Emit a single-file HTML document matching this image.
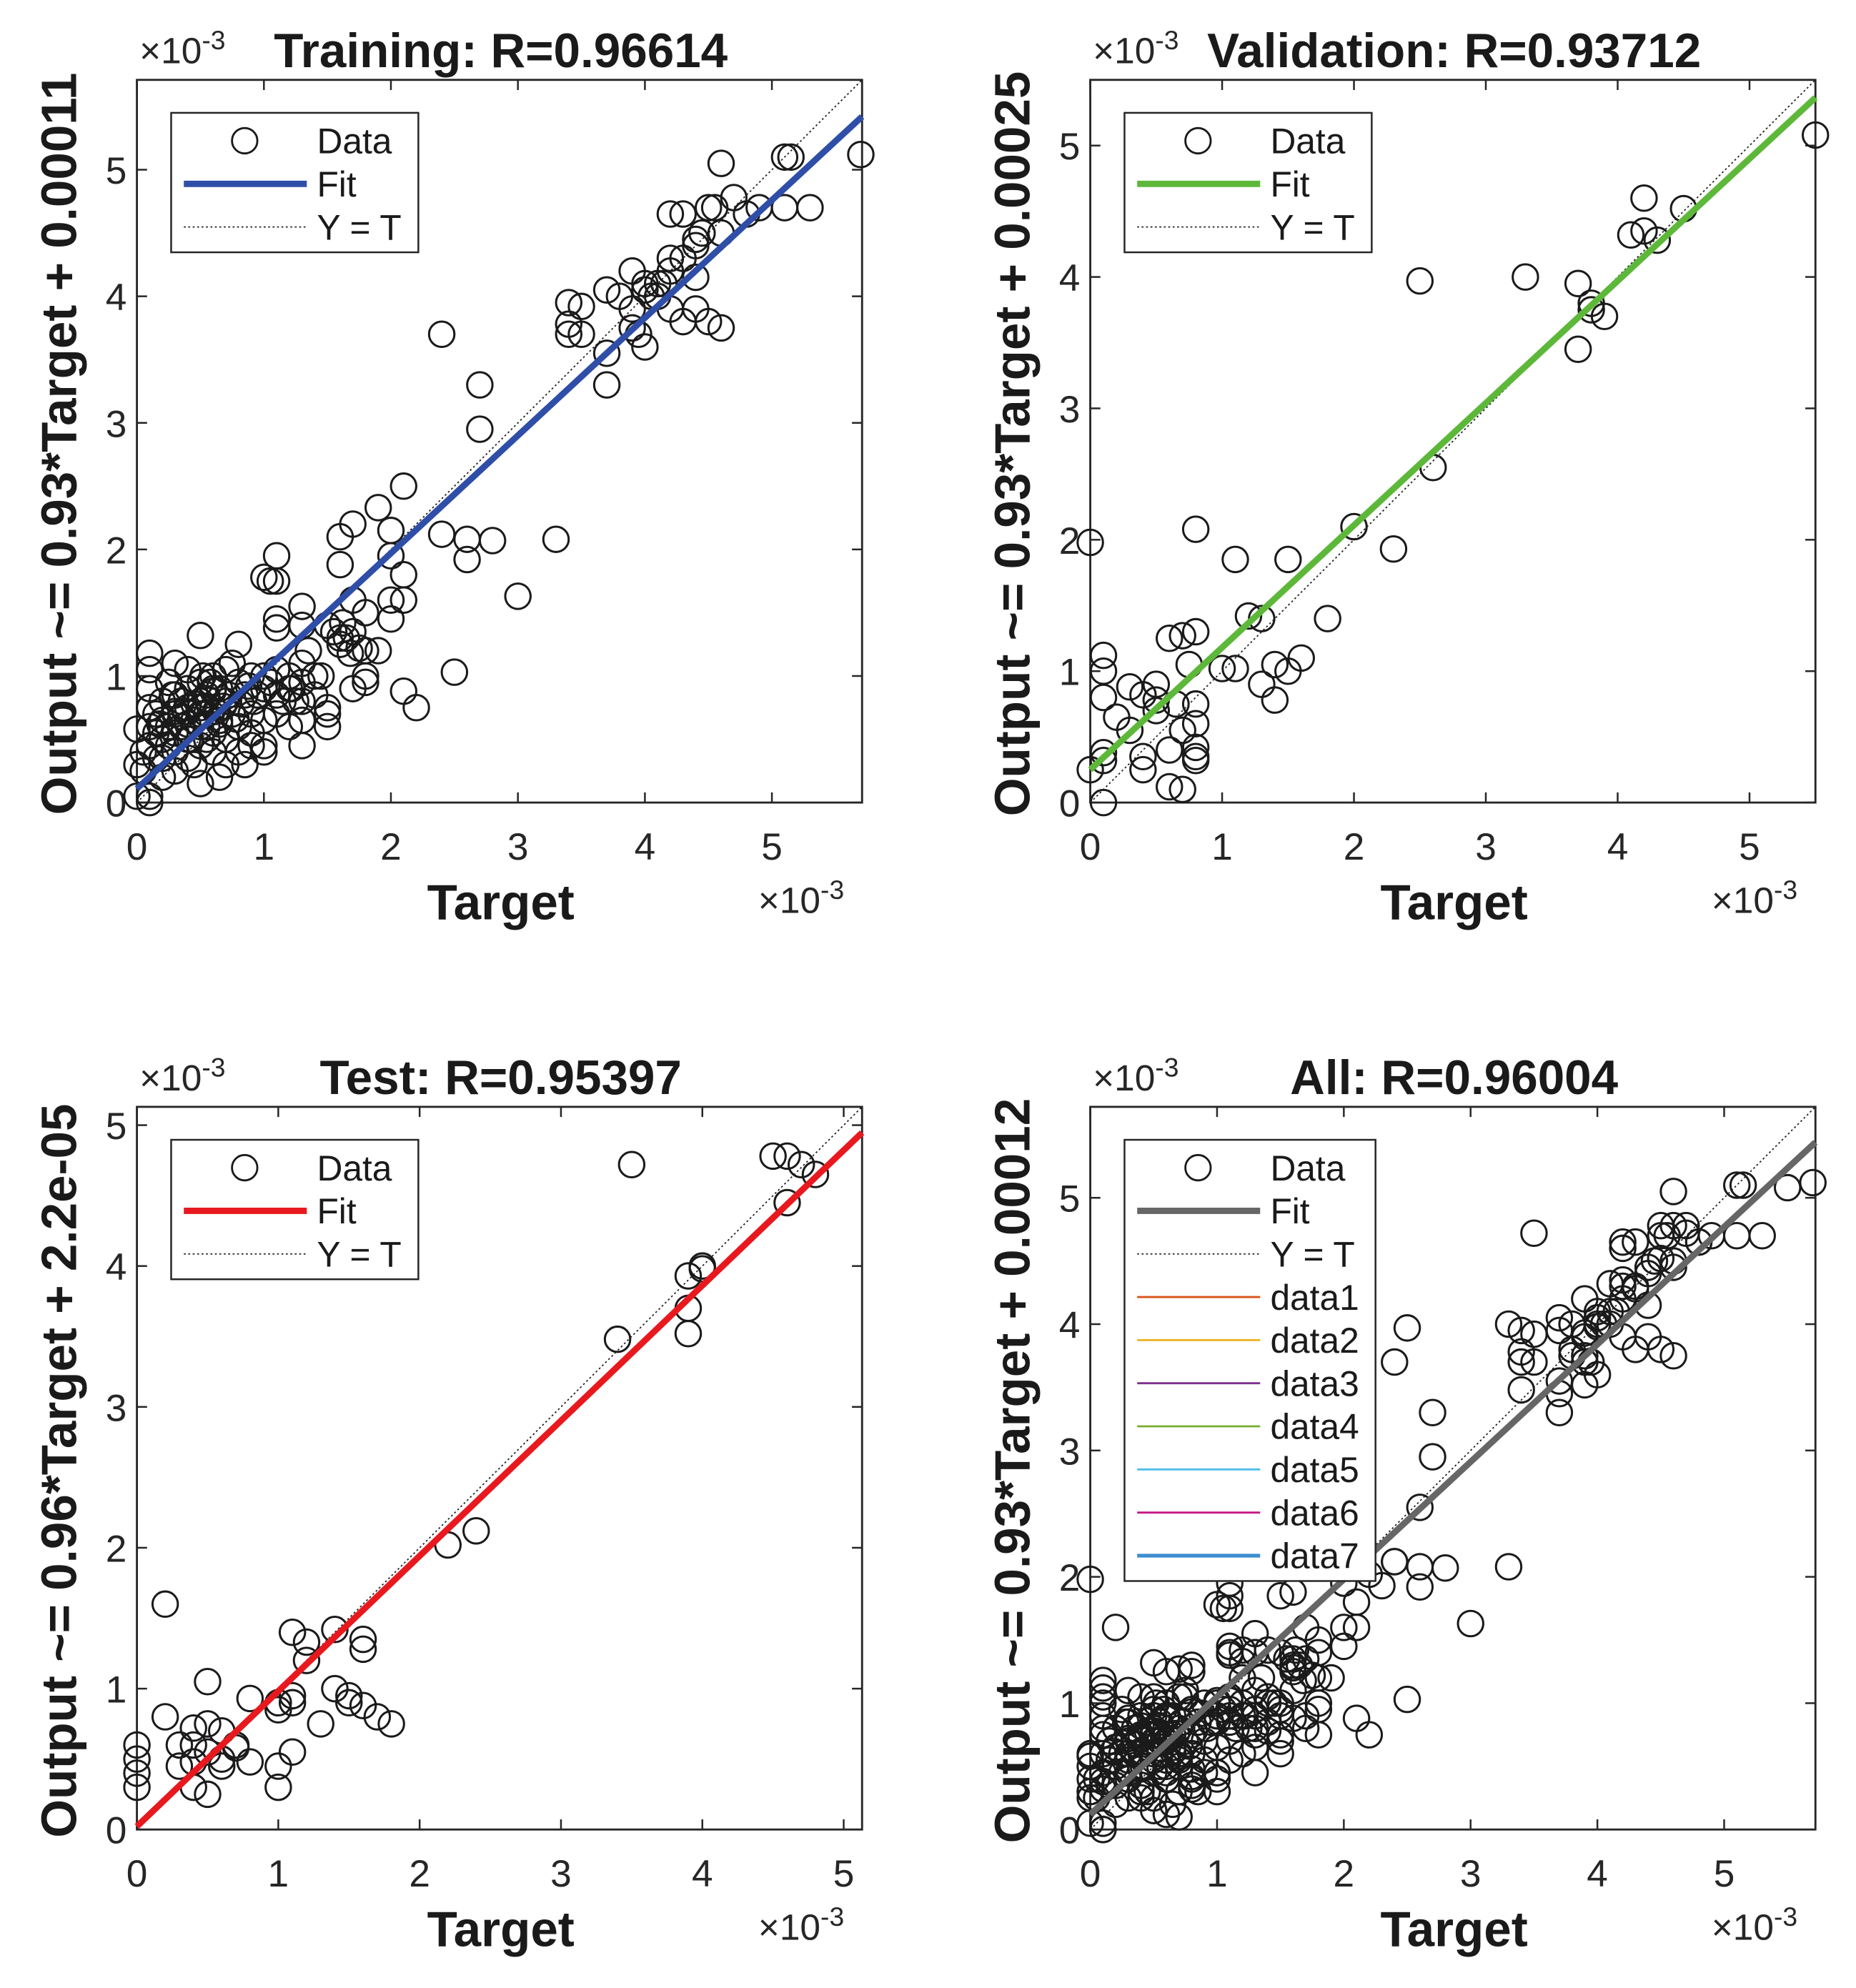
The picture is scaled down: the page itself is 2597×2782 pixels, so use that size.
<!DOCTYPE html>
<html><head><meta charset="utf-8">
<style>
html,body{margin:0;padding:0;background:#fff;}
svg{display:block;font-family:"Liberation Sans",Arial,sans-serif;}
</style></head>
<body>
<svg id="fig" width="2597" height="2782" viewBox="0 0 1464 1568" preserveAspectRatio="none" xmlns="http://www.w3.org/2000/svg"></svg>
<script>
// ---- data (units of 1e-3) ----
const trainT = [4.6,5.1,5.15,5.7,5.1,5.3,4.9,4.2,4.3,4.5,4.55,4.7,4.8,4.4,4.4,4.45,4.6,4.3,4.2,4.1,4.0,3.9,3.7,3.8,4.0,4.1,3.4,3.5,3.4,3.5,3.4,3.7,3.7,3.9,3.9,4.0,4.2,4.3,4.4,4.5,4.6,4.4,4.2,3.95,4.05,4.15,
2.4,2.7,2.7,2.1,1.9,2.0,1.7,1.6,1.6,2.0,2.1,2.4,2.6,2.8,2.6,3.3,3.0,2.5,2.1,2.2,1.0,1.05,1.1,1.1,1.1,1.1,1.3,1.3,1.7,1.8,1.5,1.6,1.7,1.8,2.0,2.1,2.0,1.9,1.8,1.8,1.7,1.5,1.3,1.2,1.3,1.4,1.3,1.0,0.9,0.8,0.5,1.0,
0,0,0,0.05,0.1,0.1,0.1,0.1,0.1,0.1,0.1,0.1,0.15,0.2,0.2,0.2,0.2,0.25,0.3,0.3,0.3,0.3,0.3,0.3,0.35,0.4,0.4,0.4,0.4,0.4,0.45,0.5,0.5,0.5,0.5,0.5,0.55,0.55,0.6,0.6,0.6,0.6,0.65,0.65,0.7,0.7,0.7,0.7,0.75,0.8,0.8,0.8,0.85,0.9,0.9,0.9,0.95,1.0,1.0,1.0,1.1,1.1,1.1,1.2,1.2,1.25,1.3,1.3,1.4,1.5,1.5,1.45,0.15,0.25,0.35,0.45,0.55,0.65,0.75,0.85,
0.05,0.15,0.2,0.25,0.3,0.35,0.4,0.45,0.5,0.55,0.6,0.62,0.68,0.72,0.78,0.82,0.88,0.92,0.55,0.6,0.5,0.58,0.52,0.65,0.42,0.38,0.28,0.18,1.05,1.15,1.22,1.35,1.6,1.65,1.75,1.55,1.68,1.62];
const trainY = [5.05,5.1,5.1,5.12,4.7,4.7,4.7,4.65,4.65,4.7,4.7,4.78,4.65,4.45,4.4,4.5,4.5,4.3,4.2,4.1,4.05,4.2,4.05,4.0,4.1,4.0,3.95,3.92,3.7,3.7,3.78,3.55,3.3,3.75,3.9,3.6,3.9,3.8,3.9,3.8,3.75,4.15,4.3,3.7,4.0,4.1,
3.7,3.3,2.95,2.5,2.33,2.15,2.2,2.1,1.88,1.95,1.8,2.12,2.08,2.07,1.92,2.08,1.63,1.03,0.88,0.75,1.78,1.75,1.95,1.75,1.45,1.38,1.55,1.4,1.6,1.5,1.4,1.3,1.35,1.2,1.6,1.6,1.45,1.2,1.0,0.95,0.9,0.7,1.1,1.0,0.8,1.0,0.45,1.0,0.45,1.25,1.32,0.4,
0.58,0.3,0.05,0.25,0.0,0.05,1.18,1.05,0.9,0.75,0.6,0.45,0.35,0.8,0.65,0.5,0.2,0.95,1.1,0.85,0.7,0.55,0.4,0.25,0.6,1.05,0.9,0.75,0.5,0.35,0.65,0.95,0.8,0.6,0.45,0.15,0.7,0.85,1.0,0.75,0.55,0.4,0.9,0.65,0.8,1.05,0.5,0.3,0.7,0.95,0.6,0.4,0.85,1.0,0.7,0.55,0.85,0.9,0.65,0.45,1.05,0.85,0.7,0.9,0.6,0.8,0.95,0.65,0.85,0.75,0.6,1.0,0.7,0.45,0.8,0.3,0.5,0.2,1.1,0.3,
0.4,0.55,0.35,0.6,0.72,0.68,0.62,0.78,0.7,0.82,0.88,0.72,0.76,0.85,0.66,0.78,0.92,0.8,0.6,0.9,0.75,0.95,1.0,0.62,0.5,0.72,0.85,0.62,0.95,0.8,0.9,1.2,1.25,1.3,1.22,1.35,1.18,1.42];
const valT = [5.5,4.2,4.5,4.2,4.1,4.3,3.7,3.3,2.5,3.8,3.8,3.9,3.7,2.6,2.0,2.3,0.8,0.0,1.1,1.5,1.8,1.2,1.3,1.6,1.4,1.5,1.3,1.4,1.0,1.1,0.8,0.7,0.6,0.75,0.1,0.1,0.1,0.3,0.4,0.5,0.5,0.2,0.5,0.8,0.8,0.7,0.8,0.8,0.8,0.6,0.4,0.4,0.1,0.1,0.0,0.1,0.6,0.7,0.3,0.65];
const valY = [5.08,4.6,4.52,4.35,4.32,4.28,3.95,4.0,3.97,3.8,3.75,3.7,3.45,2.55,2.1,1.93,2.08,1.98,1.85,1.85,1.4,1.42,1.4,1.1,1.05,1.0,0.9,0.78,1.02,1.02,1.3,1.27,1.25,1.05,1.12,1.0,0.8,0.88,0.82,0.9,0.78,0.65,0.7,0.75,0.6,0.55,0.42,0.35,0.32,0.4,0.35,0.25,0.38,0.32,0.25,0.0,0.12,0.1,0.55,0.75];
const testT = [4.5,4.6,4.7,4.8,4.6,3.5,4.0,3.9,4.0,3.9,3.9,3.4,2.4,2.2,0.2,1.1,1.2,1.4,1.6,1.6,1.2,0.5,0.8,1.0,1.1,1.1,1.4,1.5,1.5,1.6,1.7,1.8,1.3,1.0,0.2,0.4,0.5,0.3,0.4,0.5,0.6,0.7,0.4,0.3,0.8,1.1,1.0,0.6,0.4,0.5,1.0,0.0,0.0,0.0,0.0,0.7,0.6];
const testY = [4.78,4.78,4.72,4.65,4.45,4.72,4.0,3.93,3.98,3.7,3.52,3.48,2.12,2.02,1.6,1.4,1.33,1.42,1.35,1.28,1.2,1.05,0.93,0.9,0.95,0.9,1.0,0.95,0.9,0.88,0.8,0.75,0.75,0.85,0.8,0.72,0.75,0.6,0.6,0.55,0.5,0.58,0.48,0.45,0.48,0.55,0.45,0.45,0.3,0.25,0.3,0.6,0.5,0.4,0.3,0.6,0.7];
const allT = trainT.concat(valT, testT);
const allY = trainY.concat(valY, testY);
const fitSlope = [0.93, 0.93, 0.96, 0.93];
const fitIntercept = [0.11, 0.25, 0.022, 0.12];
const titles = ["Training: R=0.96614","Validation: R=0.93712","Test: R=0.95397","All: R=0.96004"];
const yLabels = ["Output ~= 0.93*Target + 0.00011","Output ~= 0.93*Target + 0.00025","Output ~= 0.96*Target + 2.2e-05","Output ~= 0.93*Target + 0.00012"];
const axMax = [5.71, 5.5, 5.13, 5.72];
const xTicks = [[0,1,2,3,4,5],[0,1,2,3,4,5],[0,1,2,3,4,5],[0,1,2,3,4,5]];
const yTicks = [[0,1,2,3,4,5],[0,1,2,3,4,5],[0,1,2,3,4,5],[0,1,2,3,4,5]];
const extraLegend = ["data1","data2","data3","data4","data5","data6","data7"];
const extraColors = ["#D95319","#EDB120","#7E2F8E","#77AC30","#4DBEEE","#C71585","#3C8DD0"];

const NS="http://www.w3.org/2000/svg";
const svg=document.getElementById('fig');
function mk(tag,attrs,parent){const e=document.createElementNS(NS,tag);for(const k in attrs)e.setAttribute(k,attrs[k]);(parent||svg).appendChild(e);return e;}

const panels=[
 {L:108,R:680,T:63,B:633,T2:trainT,Y2:trainY,color:"#2F4EA8",name:"training"},
 {L:860,R:1432,T:63,B:633,T2:valT,Y2:valY,color:"#5DB83A",name:"validation"},
 {L:108,R:680,T:873,B:1443,T2:testT,Y2:testY,color:"#E8191E",name:"test"},
 {L:860,R:1432,T:873,B:1443,T2:allT,Y2:allY,color:"#666666",name:"all"}
];

panels.forEach((p,i)=>{
 const g=mk('g',{});
 
 
 const m=axMax[i];
 const sx=v=>p.L+(p.R-p.L)*v/m;
 const sy=v=>p.B-(p.B-p.T)*v/m;
 const cp=mk('clipPath',{id:'c'+i},g);
 mk('rect',{x:p.L-12,y:p.T-12,width:p.R-p.L+24,height:p.B-p.T+24},cp);
 const fr=mk('rect',{x:p.L,y:p.T,width:p.R-p.L,height:p.B-p.T,fill:'#fff',stroke:'#262626','stroke-width':1.6},g);
 
 
 xTicks[i].forEach(t=>{
  const x=sx(t);
  mk('line',{x1:x,y1:p.B,x2:x,y2:p.B-8,stroke:'#262626','stroke-width':1.4},g);
  mk('line',{x1:x,y1:p.T,x2:x,y2:p.T+8,stroke:'#262626','stroke-width':1.4},g);
  const tx=mk('text',{x:x,y:p.B+45,'font-size':30,'text-anchor':'middle',fill:'#262626'},g);
  tx.textContent=t;
  
  
 });
 yTicks[i].forEach(t=>{
  const y=sy(t);
  mk('line',{x1:p.L,y1:y,x2:p.L+8,y2:y,stroke:'#262626','stroke-width':1.4},g);
  mk('line',{x1:p.R,y1:y,x2:p.R-8,y2:y,stroke:'#262626','stroke-width':1.4},g);
  const ty=mk('text',{x:p.L-8,y:y+11,'font-size':30,'text-anchor':'end',fill:'#262626'},g);
  ty.textContent=t;
  
  
 });
 const cg=mk('g',{'clip-path':'url(#c'+i+')'},g);
 for(let k=0;k<p.T2.length;k++){
  const c=mk('circle',{cx:sx(p.T2[k]),cy:sy(p.Y2[k]),r:10,fill:'none',stroke:'#1a1a1a','stroke-width':1.7},cg);
  
  
 }
 const yt=mk('line',{x1:sx(0),y1:sy(0),x2:sx(m),y2:sy(m),stroke:'#222','stroke-width':1,'stroke-dasharray':'1.5 2'},cg);
 
 
 const fl=mk('line',{x1:sx(0),y1:sy(fitIntercept[i]),x2:sx(m),y2:sy(fitSlope[i]*m+fitIntercept[i]),stroke:p.color,'stroke-width':5},cg);
 
 
 const tt=mk('text',{x:(i%2==0)?395:1147,y:p.T-10,'font-size':38,'font-weight':'bold','text-anchor':'middle',fill:'#1a1a1a'},g);
 tt.textContent=titles[i];
 
 
 const e1=mk('text',{x:p.L+2,y:p.T-13,'font-size':29,fill:'#262626'},g);
 e1.innerHTML='×10<tspan dy="-11" font-size="21">-3</tspan>';
 
 
 const e2=mk('text',{x:p.R-82,y:p.B+87,'font-size':29,fill:'#262626'},g);
 e2.innerHTML='×10<tspan dy="-11" font-size="21">-3</tspan>';
 
 
 const xl=mk('text',{x:(p.L+p.R)/2+1,y:p.B+92,'font-size':39,'font-weight':'bold','text-anchor':'middle',fill:'#1a1a1a'},g);
 xl.textContent='Target';
 
 
 const cy=(p.T+p.B)/2+2;
 const yl=mk('text',{x:0,y:0,'font-size':39,'font-weight':'bold','text-anchor':'middle',fill:'#1a1a1a',transform:`translate(${p.L-48},${cy}) rotate(-90)`},g);
 yl.textContent=yLabels[i];
 
 
 const lx=p.L+27, ly=p.T+26;
 const n=(i==3)?10:3;
 const lg=mk('g',{},g);
 
 
 mk('rect',{x:lx,y:ly,width:(i==3)?198:195,height:n*34+8,fill:'#fff',stroke:'#262626','stroke-width':1.4},lg);
 const rowY=r=>ly+22+r*34;
 const tx0=lx+115;
 mk('circle',{cx:lx+58,cy:rowY(0),r:10,fill:'none',stroke:'#1a1a1a','stroke-width':1.6},lg);
 mk('line',{x1:lx+10,y1:rowY(1),x2:lx+107,y2:rowY(1),stroke:p.color,'stroke-width':5},lg);
 mk('line',{x1:lx+10,y1:rowY(2),x2:lx+107,y2:rowY(2),stroke:'#222','stroke-width':1,'stroke-dasharray':'1.5 2'},lg);
 const labs=["Data","Fit","Y = T"].concat(i==3?extraLegend:[]);
 labs.forEach((s,r)=>{
  if(r>=3){mk('line',{x1:lx+10,y1:rowY(r),x2:lx+107,y2:rowY(r),stroke:extraColors[r-3],'stroke-width':r==9?3:1.6},lg);}
  const t=mk('text',{x:tx0,y:rowY(r)+10,'font-size':28,fill:'#1a1a1a'},lg);
  t.textContent=s;
  
  
 });
});
</script>
</body></html>
